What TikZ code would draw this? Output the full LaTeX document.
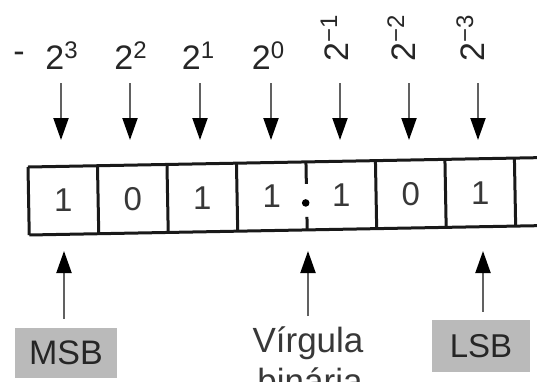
\documentclass[tikz,border=0pt]{standalone}
\usepackage{fontspec}
\setmainfont{Liberation Sans}
\usetikzlibrary{arrows.meta}
% power of two with a raised exponent
\newcommand\powtwo[1]{2\raisebox{11pt}{\fontsize{24}{24}\selectfont #1}}
\begin{document}
\begin{tikzpicture}[x=1pt,y=-1pt,
  lab/.style={inner sep=0pt, text=black!85, font=\fontsize{34}{40}\selectfont},
  digit/.style={inner sep=0pt, text=black!78, font=\fontsize{33}{40}\selectfont},
  frame/.style={line width=3pt, draw=black!90},
  darr/.style={line width=2pt, draw=black!62,
    -{Triangle[width=15pt,length=22pt,color=black]}},
  tag/.style={fill=black!27, text=black!85, inner sep=0pt,
    font=\fontsize{34}{40}\selectfont},
  note/.style={text=black!78, inner sep=0pt, font=\fontsize{35}{41}\selectfont}]
\useasboundingbox (0,0) rectangle (537,381);
\clip (0,0) rectangle (537,381);

% place weights
\node[lab] (dash) at (19,57) {-};
\node[lab, anchor=base] (w3) at (61.5,69) {\powtwo{3}};
\node[lab, anchor=base] (w2) at (130.5,69) {\powtwo{2}};
\node[lab, anchor=base] (w1) at (198,69) {\powtwo{1}};
\node[lab, anchor=base] (w0) at (268,69) {\powtwo{0}};
\node[lab, anchor=base west, rotate=90] (wm1) at (348,62) {\powtwo{\char"2212 1}};
\node[lab, anchor=base west, rotate=90] (wm2) at (415,62) {\powtwo{\char"2212 2}};
\node[lab, anchor=base west, rotate=90] (wm3) at (484,62) {\powtwo{\char"2212 3}};

% arrows from the weights down to the register
\foreach \i/\x in {1/61,2/130,3/200,4/271,5/340,6/409,7/478}{
  \coordinate (a\i) at (\x,83);
  \coordinate (b\i) at (\x,140);
  \draw[darr] (a\i) -- (b\i);
}

% the register, slightly tilted
\begin{scope}[rotate around={1.05:(28,167)}]
  \draw[frame] (28,167) -- (560,167);
  \draw[frame] (28,235) -- (560,235);
  \foreach \k in {0,1,2,3,5,6,7}{
    \draw[frame] ({28+69.5*\k},167) -- ({28+69.5*\k},235);
  }
  % binary point
  \draw[frame] (306,167) -- (306,189);
  \fill[black] (305,208) circle (3.8pt);
  \draw[frame] (306,222) -- (306,235);
  \foreach \i/\d in {1/1,2/0,3/1,4/1,5/1,6/0,7/1}{
    \node[digit] (c\i) at ({28+69.5*(\i-0.5)},201) {\d};
  }
\end{scope}

% labels below
\node[tag, minimum width=102pt, minimum height=50pt] (msb) at (66,353) {MSB};
\node[tag, minimum width=98pt, minimum height=52pt,
  font=\fontsize{33}{40}\selectfont] (lsb) at (481,346) {LSB};
\node[note, anchor=base] (v1) at (308,352) {Vírgula};
\node[note, anchor=base] (v2) at (310,393) {binária};

% arrows up to the register
\coordinate (tm) at (64,251);
\coordinate (tv) at (308,251);
\coordinate (tl) at (483,251);
\draw[darr] (msb.north -| tm) ++(0,-9) -- (tm);
\draw[darr] (v1.north -| tv) ++(0,-10) -- (tv);
\draw[darr] (lsb.north -| tl) ++(0,-8) -- (tl);
\end{tikzpicture}
\end{document}
